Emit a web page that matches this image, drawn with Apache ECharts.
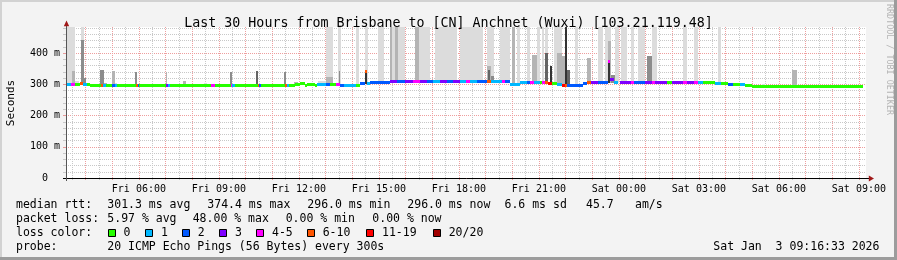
<!DOCTYPE html>
<html><head><meta charset="utf-8">
<script src="https://cdn.jsdelivr.net/npm/echarts@6/dist/echarts.min.js"></script>
<style>html,body{margin:0;padding:0;background:#f3f3f3}#c{width:897px;height:260px}</style>
</head><body><div id="c"></div><script>
const TITLE = 'Last 30 Hours from Brisbane to [CN] Anchnet (Wuxi) [103.21.119.48]';
// time axis: hours since Fri 00:00
const X_MIN = 3.2667, X_MAX = 33.2667;
const Y_MAX = 483.2; // ms
const xLabelHours = [6, 9, 12, 15, 18, 21, 24, 27, 30, 33];
const yLabelValues = [0, 100, 200, 300, 400];
const lossLabels = ['0', '1', '2', '3', '4-5', '6-10', '11-19', '20/20'];
const lossColors = ['#26ff00', '#00b8ff', '#0059ff', '#7e00ff', '#ff00ff', '#ff5500', '#ff0000', '#a10000'];
const smokeShades = ['#dcdcdc', '#b4b4b4', '#8c8c8c', '#646464', '#333333'];

// median rtt runs: [startHour, endHour, medianMs, lossIndex]
const medianRuns = [
[3.27,3.45,302,1],[3.45,3.60,302,4],[3.60,3.79,301,0],[3.79,3.90,303,5],[3.90,4.05,301,1],
[4.05,4.17,300,0],[4.17,4.43,299,0],[4.43,4.58,297,0],[4.58,4.67,297,5],[4.67,4.75,297,1],
[4.75,4.99,297,0],[4.99,5.10,297,2],[5.10,5.18,297,1],[5.18,5.89,297,0],[5.89,5.95,297,5],
[5.95,6.00,297,2],[6.00,7.02,297,0],[7.02,7.09,297,3],[7.09,7.17,297,1],[7.17,8.72,297,0],
[8.72,8.85,297,4],[8.85,9.44,297,0],[9.44,9.51,297,4],[9.51,9.60,297,1],[9.60,10.47,297,0],
[10.47,10.52,297,5],[10.52,10.58,297,2],[10.58,11.48,297,0],[11.48,11.55,297,5],[11.55,11.63,297,1],
[11.63,11.85,297,0],[11.85,12.04,301,0],[12.04,12.23,303,0],[12.23,12.31,298,0],[12.31,12.60,302,0],
[12.60,12.68,298,0],[12.68,13.02,302,1],[13.02,13.17,301,2],[13.17,13.39,300,0],[13.39,13.54,300,4],
[13.54,13.69,299,2],[13.69,14.14,298,1],[14.14,14.29,299,0],[14.29,14.48,304,2],[14.48,14.56,341,5],
[14.56,14.67,305,1],[14.67,15.42,308,2],[15.42,15.68,309,3],[15.68,15.98,309,2],[15.98,16.28,309,3],
[16.28,16.54,309,4],[16.54,16.80,309,3],[16.80,17.03,309,2],[17.03,17.30,309,1],[17.30,17.55,309,3],
[17.55,17.78,309,2],[17.78,18.04,309,3],[18.04,18.25,309,1],[18.25,18.42,309,4],[18.42,18.68,309,1],
[18.68,19.05,309,2],[19.05,19.20,309,5],[19.20,19.62,309,1],[19.62,19.73,309,4],[19.73,19.92,309,2],
[19.92,20.29,302,1],[20.29,20.55,306,1],[20.55,20.67,307,2],
[20.67,20.80,307,4],[20.80,21.04,308,1],[21.04,21.12,308,0],[21.12,21.23,307,4],[21.23,21.36,306,5],
[21.36,21.49,304,6],[21.49,21.68,304,0],[21.68,21.85,301,1],[21.85,21.98,299,6],[21.98,22.07,298,5],
[22.07,22.65,298,2],[22.65,22.80,303,2],[22.80,22.95,307,5],[22.95,23.22,308,3],[23.22,23.59,308,2],
[23.59,23.67,374.4,4],[23.67,23.80,318,3],[23.80,23.95,308,1],[24.06,24.45,308,3],[24.45,24.55,308,4],
[24.55,24.98,308,2],[24.98,25.24,308,3],[25.24,25.35,308,4],[25.35,25.80,308,3],[25.80,25.99,308,0],
[25.99,26.40,308,3],[26.40,26.55,308,4],[26.55,26.82,308,3],[26.82,26.95,308,4],[26.95,27.15,308,1],
[27.15,27.60,306,0],[27.60,27.83,305,1],[27.83,28.10,303,0],[28.10,28.28,302,2],[28.28,28.54,301,0],
[28.54,28.73,300,1],[28.73,28.99,299,0],[28.99,33.15,296,0]
];

// smoke (ping spread): [startHour, endHour, lowMs, highMs, shadeIndex]
const smoke = [
[3.27,3.60,300,483,0],[3.50,3.60,300,341,1],[3.60,3.75,298,312,0],[3.83,3.94,300,483,0],[3.83,3.94,300,442,2],
[3.94,4.02,300,320,2],[4.54,4.69,297,346,2],[4.69,4.80,297,304,1],[4.99,5.10,297,341,1],[5.10,5.18,297,305,0],
[5.85,5.93,297,338,2],[7.00,7.07,297,338,1],[7.65,7.77,297,312,1],[8.44,8.55,297,305,0],[9.40,9.48,297,338,2],
[10.41,10.47,297,341,3],[11.44,11.52,297,338,2],[11.82,11.97,300,306,1],[12.72,13.17,300,309,0],[13.02,13.28,300,483,0],
[13.02,13.28,298,322,1],[13.47,13.58,300,483,0],[13.49,13.56,300,344,2],[14.14,14.27,300,483,0],[14.48,14.59,300,483,0],
[14.48,14.56,300,341,4],[14.97,15.19,305,483,0],[15.42,15.98,305,483,0],[15.42,15.49,305,483,1],[15.60,15.70,305,483,1],
[16.35,16.92,305,483,0],[16.35,16.50,305,483,1],[17.10,17.93,305,483,0],[18.04,18.92,305,483,0],[19.05,19.30,305,483,0],
[19.05,19.20,305,357,1],[19.08,19.18,305,346,3],[19.20,19.30,305,325,2],[19.54,19.92,303,483,0],[19.99,20.10,300,483,1],
[20.18,20.29,300,483,0],[20.55,20.67,303,483,0],[20.74,20.93,303,394,1],[20.93,21.04,303,483,0],[21.12,21.19,303,483,0],
[21.23,21.36,303,483,0],[21.23,21.36,303,400,3],[21.40,21.49,300,357,4],[21.55,21.68,300,483,0],[21.68,21.85,300,483,0],
[21.68,21.85,300,400,1],[21.85,21.98,300,389,1],[21.98,22.07,298,483,4],[22.07,22.17,298,346,3],[22.35,22.48,298,483,0],
[22.80,22.95,300,384,1],[23.22,23.40,305,483,0],[23.48,23.72,305,483,0],[23.59,23.72,305,437,1],[23.59,23.67,305,374,4],
[23.72,23.85,305,330,2],[23.85,24.00,305,483,0],[24.08,24.30,305,483,0],[24.45,24.58,305,483,0],[24.72,24.98,305,483,0],
[24.75,24.90,303,312,1],[25.05,25.24,305,389,2],[25.24,25.43,305,483,0],[26.40,26.57,305,483,0],[26.82,26.95,305,483,0],
[27.15,27.30,303,310,0],[27.72,27.83,303,483,0],[29.37,29.48,296,302,0],[30.49,30.68,296,347,1]
];

const statsRtt = [['median rtt:',16],['301.3 ms avg',107.3],['374.4 ms max',207.3],['296.0 ms min',307.3],['296.0 ms now',407.3],['6.6 ms sd',504.5],['45.7',586],['am/s',635]];
const statsLoss = [['packet loss:',16],['5.97 % avg',107.3],['48.00 % max',192.7],['0.00 % min',285.7],['0.00 % now',372.3]];
const lossBoxX = [107.5, 145, 181.7, 219, 256, 306.7, 366, 432.7];
const probeLine = [['probe:',16],['20 ICMP Echo Pings (56 Bytes) every 300s',107.3]];
const stampText = 'Sat Jan  3 09:16:33 2026';

const MONO = 'DejaVu Sans Mono';
const halfHours = []; for (let h = 3.5; h <= 33; h += 0.5) halfHours.push(h);
const hours = []; for (let h = 4; h <= 33; h += 1) hours.push(h);
const yMinor = []; for (let v = 0; v <= 480; v += 20) yMinor.push(v);

function fmtX(v) {
  const d = v < 24 ? 'Fri' : 'Sat';
  const hh = Math.round(v) % 24;
  return d + ' ' + (hh < 10 ? '0' : '') + hh + ':00';
}
function fmtY(v) { return v === 0 ? '0  ' : v + ' m'; }

const smokeSorted = smoke.slice().sort((a, b) => a[4] - b[4]);

function renderSmoke(params, api) {
  const a = api.coord([api.value(0), api.value(3)]);
  const b = api.coord([api.value(1), api.value(2)]);
  const x0 = Math.round(a[0]), x1 = Math.round(b[0]);
  const y0 = Math.round(a[1]), y1 = Math.round(b[1]);
  return {type: 'rect', shape: {x: x0, y: y0, width: Math.max(1, x1 - x0), height: y1 - y0},
          style: {fill: smokeShades[api.value(4)]}};
}
function renderMedian(params, api) {
  const a = api.coord([api.value(0), api.value(2)]);
  const b = api.coord([api.value(1), api.value(2)]);
  const x0 = Math.round(a[0]), x1 = Math.round(b[0]);
  const y = Math.round(a[1]);
  return {type: 'rect', shape: {x: x0, y: y - 1, width: Math.max(1, x1 - x0), height: 3},
          style: {fill: lossColors[api.value(3)]}};
}

const txt = (x, y, s, extra) => Object.assign({type: 'text', x: x, y: y, silent: true,
  style: {text: s, font: '11.5px "' + MONO + '"', fill: '#000', textVerticalAlign: 'middle'}}, extra || {});

const graphics = [];
// frame
graphics.push({type: 'rect', shape: {x: 0, y: 0, width: 897, height: 2}, style: {fill: '#d2d2d2'}, silent: true});
graphics.push({type: 'rect', shape: {x: 0, y: 0, width: 2, height: 260}, style: {fill: '#d2d2d2'}, silent: true});
graphics.push({type: 'rect', shape: {x: 0, y: 257, width: 897, height: 3}, style: {fill: '#9c9c9c'}, silent: true});
graphics.push({type: 'rect', shape: {x: 894, y: 0, width: 3, height: 260}, style: {fill: '#9c9c9c'}, silent: true});
// axis extensions & arrows
graphics.push({type: 'line', shape: {x1: 63, y1: 178.5, x2: 870, y2: 178.5}, style: {stroke: '#000', lineWidth: 1}, silent: true, z: 10});
graphics.push({type: 'line', shape: {x1: 66.5, y1: 181, x2: 66.5, y2: 25}, style: {stroke: '#555', lineWidth: 1}, silent: true, z: 10});
graphics.push({type: 'polygon', shape: {points: [[66.5, 20.5], [63.8, 26.2], [69.2, 26.2]]}, style: {fill: '#a01818'}, silent: true, z: 11});
graphics.push({type: 'polygon', shape: {points: [[874, 178.5], [868.8, 175.6], [868.8, 181.4]]}, style: {fill: '#a01818'}, silent: true, z: 11});
// rotated labels
graphics.push({type: 'text', x: 11, y: 103, rotation: Math.PI / 2, silent: true,
  style: {text: 'Seconds', font: '11px "' + MONO + '"', fill: '#000', textAlign: 'center', textVerticalAlign: 'middle'}});
graphics.push({type: 'text', x: 889, y: 59.5, rotation: -Math.PI / 2, silent: true,
  style: {text: 'RRDTOOL / TOBI OETIKER', font: '8.4px "' + MONO + '"', fill: '#b4b4b4', textAlign: 'center', textVerticalAlign: 'middle'}});
// legend text
const L1 = 204.8, L2 = 218.8, L3 = 232.8, L4 = 246.6;
statsRtt.forEach(s => graphics.push(txt(s[1], L1, s[0])));
statsLoss.forEach(s => graphics.push(txt(s[1], L2, s[0])));
graphics.push(txt(16, L3, 'loss color:'));
lossBoxX.forEach((bx, i) => {
  graphics.push({type: 'rect', shape: {x: Math.round(bx) + 0.5, y: 229.5, width: 7, height: 7},
    style: {fill: lossColors[i], stroke: '#000', lineWidth: 1}, silent: true});
  graphics.push(txt(bx + 16, L3, lossLabels[i]));
});
probeLine.forEach(s => graphics.push(txt(s[1], L4, s[0])));
graphics.push(txt(713.3, L4, stampText));

const chart = echarts.init(document.getElementById('c'), null, {renderer: 'canvas'});
chart.setOption({
  animation: false,
  backgroundColor: '#f3f3f3',
  title: {text: TITLE, left: 'center', top: 12,
    textStyle: {fontFamily: MONO, fontSize: 13.3, fontWeight: 'normal', color: '#000'}},
  grid: {left: 66, right: 31, top: 27, bottom: 82, show: true, backgroundColor: '#fff', borderWidth: 0, containLabel: false},
  xAxis: [
    {type: 'value', min: X_MIN, max: X_MAX, position: 'bottom',
     axisLine: {show: false},
     axisTick: {show: true, customValues: halfHours, length: 2, lineStyle: {color: '#c8c8c8'}},
     axisLabel: {show: false},
     splitLine: {show: true, lineStyle: {color: '#c8c8c8', width: 1, type: [1, 1]}}},
    {type: 'value', min: X_MIN, max: X_MAX, position: 'bottom',
     axisLine: {show: false},
     axisTick: {show: true, customValues: hours, length: 2, lineStyle: {color: '#e89a9a'}},
     axisLabel: {show: true, customValues: xLabelHours, formatter: fmtX, margin: 6,
       fontFamily: MONO, fontSize: 10, color: '#000'},
     splitLine: {show: true, lineStyle: {color: '#ee9e9e', width: 1, type: [1, 1]}}}
  ],
  yAxis: [
    {type: 'value', min: 0, max: Y_MAX,
     axisLine: {show: false},
     axisTick: {show: true, customValues: yMinor, length: 3, lineStyle: {color: '#c8c8c8'}},
     axisLabel: {show: true, customValues: yLabelValues, formatter: fmtY, margin: 6,
       fontFamily: MONO, fontSize: 10, color: '#000'},
     splitLine: {show: true, lineStyle: {color: '#c8c8c8', width: 1, type: [1, 1]}}},
    {type: 'value', min: 0, max: Y_MAX, position: 'left',
     axisLine: {show: false},
     axisTick: {show: true, customValues: yLabelValues, length: 3, lineStyle: {color: '#e89a9a'}},
     axisLabel: {show: false},
     splitLine: {show: true, lineStyle: {color: '#ee9e9e', width: 1, type: [1, 1]}}}
  ],
  series: [
    {type: 'custom', name: 'smoke', xAxisIndex: 0, yAxisIndex: 0, data: smokeSorted,
     encode: {x: [0, 1], y: [2, 3]}, renderItem: renderSmoke, silent: true, z: 2},
    {type: 'custom', name: 'median rtt', xAxisIndex: 0, yAxisIndex: 0, data: medianRuns,
     encode: {x: [0, 1], y: 2}, renderItem: renderMedian, silent: true, z: 3}
  ],
  graphic: {elements: graphics}
});
</script></body></html>
